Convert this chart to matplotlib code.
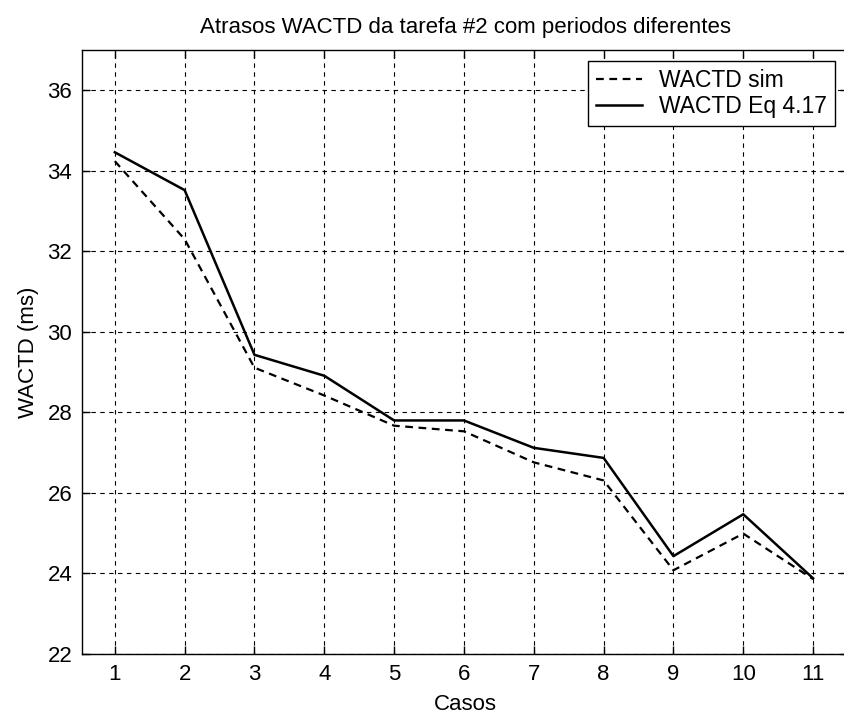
import matplotlib
matplotlib.use("Agg")
import matplotlib.pyplot as plt

cases = [1, 2, 3, 4, 5, 6, 7, 8, 9, 10, 11]
wactd_sim = [34.24, 32.3, 29.11, 28.42, 27.67, 27.53, 26.76, 26.31, 24.08, 24.99, 23.86]
wactd_eq = [34.46, 33.52, 29.43, 28.91, 27.80, 27.80, 27.12, 26.87, 24.43, 25.47, 23.88]
yticks = [22, 24, 26, 28, 30, 32, 34, 36]

plt.rcParams['font.family'] = ['Liberation Sans', 'DejaVu Sans']
fs = 16

fig = plt.figure(figsize=(8.44, 7.17), dpi=100)
W, H = 844, 717
left, right_px = 82, 848
bottom_px, top_px = 654, 50
ax = fig.add_axes([left / W, (H - bottom_px) / H, (right_px - left) / W, (bottom_px - top_px) / H])

ax.plot(cases, wactd_sim, color='black', lw=1.6, linestyle=(0, (3.5, 2.5)), label='WACTD sim')
ax.plot(cases, wactd_eq, color='black', lw=1.8, linestyle='-', label='WACTD Eq 4.17')

ax.set_xlim(0.53, 11.5)
ax.set_ylim(22, 37)
ax.set_xticks(cases)
ax.set_yticks(yticks)
ax.tick_params(direction='in', length=6, width=1, top=True, right=True, labelsize=fs, pad=7)
ax.grid(True, color='black', linestyle=(0, (4, 4)), linewidth=0.8)
for s in ax.spines.values():
    s.set_linewidth(1.0)

ax.set_title('Atrasos WACTD da tarefa #2 com periodos diferentes', fontsize=fs, pad=12)
ax.set_xlabel('Casos', fontsize=fs, labelpad=7)
ax.set_ylabel('WACTD (ms)', fontsize=fs, labelpad=6)

leg = ax.legend(loc='upper right', bbox_to_anchor=(835 / W, (H - 61) / H),
                bbox_transform=fig.transFigure, fontsize=16.5, fancybox=False,
                framealpha=1, edgecolor='black', handlelength=2.0, handletextpad=0.75,
                labelspacing=0.12, borderpad=0.35, borderaxespad=0)
leg.get_frame().set_linewidth(1.0)

fig.savefig('out.png', dpi=100)
